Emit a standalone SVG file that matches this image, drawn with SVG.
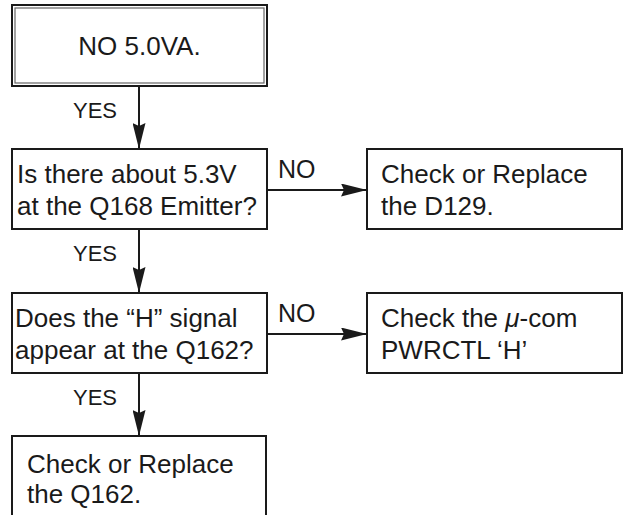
<svg xmlns="http://www.w3.org/2000/svg" width="624" height="515" viewBox="0 0 624 515">
<style>
.box{fill:#fff;stroke:#1a1a1a;stroke-width:2}
.inner{fill:none;stroke:#666;stroke-width:1.2}
.t{font-family:"Liberation Sans",Arial,Helvetica,sans-serif;font-size:26px;fill:#1a1a1a}
.lbl{font-family:"Liberation Sans",Arial,Helvetica,sans-serif;font-size:22px;fill:#1a1a1a}
.no{font-family:"Liberation Sans",Arial,Helvetica,sans-serif;font-size:25px;fill:#1a1a1a}
.c{fill:none;stroke:#1a1a1a;stroke-width:2}
</style>
<defs>
<marker id="ah" viewBox="0 0 26 13" refX="26" refY="6.5" markerWidth="26" markerHeight="13" markerUnits="userSpaceOnUse" orient="auto">
<path d="M0,0 L26,6.5 L0,13 L3,6.5 Z" fill="#1a1a1a"/>
</marker>
</defs>
<rect width="624" height="515" fill="#fff"/>
<g id="connectors">
<line class="c" x1="139" y1="86" x2="139" y2="149" marker-end="url(#ah)"/>
<line class="c" x1="139" y1="229" x2="139" y2="293" marker-end="url(#ah)"/>
<line class="c" x1="139" y1="373" x2="139" y2="436" marker-end="url(#ah)"/>
<line class="c" x1="267" y1="190" x2="367" y2="190" marker-end="url(#ah)"/>
<line class="c" x1="267" y1="334" x2="367" y2="334" marker-end="url(#ah)"/>
<text class="lbl" x="73" y="118">YES</text>
<text class="lbl" x="73" y="261">YES</text>
<text class="lbl" x="73" y="405">YES</text>
<text class="no" x="278" y="178">NO</text>
<text class="no" x="278" y="322">NO</text>
</g>
<g id="start">
<rect class="box" x="12" y="5" width="255" height="81"/>
<rect class="inner" x="15" y="8" width="249" height="75"/>
<text class="t" x="139.5" y="55" text-anchor="middle">NO 5.0VA.</text>
</g>
<g id="q1">
<rect class="box" x="12" y="149" width="255" height="80"/>
<text class="t" x="17" y="183">Is there about 5.3V</text>
<text class="t" x="17" y="215">at the Q168 Emitter?</text>
</g>
<g id="d129">
<rect class="box" x="367" y="149" width="255" height="80"/>
<text class="t" x="381" y="183">Check or Replace</text>
<text class="t" x="381" y="215">the D129.</text>
</g>
<g id="q2">
<rect class="box" x="12" y="293" width="255" height="80"/>
<text class="t" x="15" y="327">Does the “H” signal</text>
<text class="t" x="15" y="359">appear at the Q162?</text>
</g>
<g id="ucom">
<rect class="box" x="367" y="293" width="255" height="80"/>
<text class="t" x="381" y="327">Check the <tspan font-style="italic">μ</tspan>-com</text>
<text class="t" x="381" y="359">PWRCTL ‘H’</text>
</g>
<g id="q162">
<rect class="box" x="12" y="436" width="254" height="100"/>
<text class="t" x="27" y="473">Check or Replace</text>
<text class="t" x="27" y="503">the Q162.</text>
</g>
</svg>
